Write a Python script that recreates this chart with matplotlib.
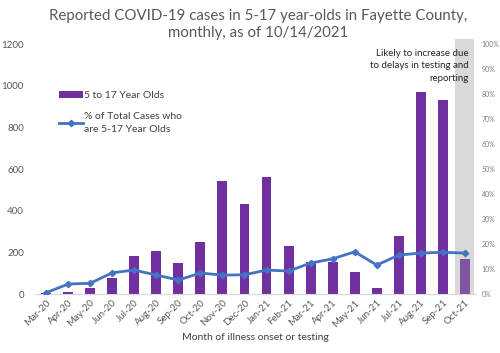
import matplotlib.pyplot as plt
import numpy as np

months = ['Mar-20', 'Apr-20', 'May-20', 'Jun-20', 'Jul-20', 'Aug-20', 'Sep-20', 'Oct-20',
          'Nov-20', 'Dec-20', 'Jan-21', 'Feb-21', 'Mar-21', 'Apr-21', 'May-21', 'Jun-21',
          'Jul-21', 'Aug-21', 'Sep-21', 'Oct-21']
cases = [5, 8, 27, 76, 185, 206, 147, 250, 543, 434, 564, 229, 155, 152, 108, 31, 277, 968, 934, 166]
pct = [0.5, 4.0, 4.3, 8.5, 9.6, 7.6, 5.6, 8.4, 7.6, 7.7, 9.6, 9.2, 12.4, 14.1, 16.9, 11.6,
       15.6, 16.4, 16.7, 16.4]

plt.rc('font', family='Lato')
fig = plt.figure(figsize=(5, 3.53), dpi=100)
ax = fig.add_axes([0.07, 0.167, 0.882, 0.708])
x = np.arange(len(months))

# gray box marking the incomplete month
ax.bar(x[-1], 1224, width=0.86, color='#d9d9d9', zorder=1, clip_on=False)
colors = ['#7030a0'] * (len(months) - 1) + ['#7f55a0']
bars = ax.bar(x, cases, width=0.45, color=colors, zorder=2, label='5 to 17 Year Olds')

ax.set_xlim(-0.5, len(months) - 0.5)
ax.set_ylim(0, 1200)
ax.set_yticks(np.arange(0, 1201, 200))
ax.set_xticks(x)
ax.set_xticklabels(months, rotation=45, ha='right', rotation_mode='anchor', fontsize=7, color='#595959')
ax.tick_params(axis='y', labelsize=7, colors='#595959', length=0, pad=8)
ax.tick_params(axis='x', length=0, pad=3)
for s in ['top', 'right', 'left']:
    ax.spines[s].set_visible(False)
ax.spines['bottom'].set_color('#d9d9d9')

ax2 = ax.twinx()
line, = ax2.plot(x, pct, color='#4472c4', lw=2, marker='D', markersize=3.2, zorder=3,
                 label='% of Total Cases who\nare 5-17 Year Olds')
ax2.set_ylim(0, 100)
ax2.set_yticks(np.arange(0, 101, 10))
ax2.set_yticklabels([f'{v}%' for v in range(0, 101, 10)])
ax2.tick_params(axis='y', labelsize=5, colors='#7f7f7f', length=0, pad=4)
for s in ['top', 'right', 'left', 'bottom']:
    ax2.spines[s].set_visible(False)

leg = fig.legend(handles=[bars, line], labels=['5 to 17 Year Olds', '% of Total Cases who\nare 5-17 Year Olds'],
                 loc='upper left', bbox_to_anchor=(0.1, 0.77), frameon=False, fontsize=7.5,
                 handlelength=2.3, handletextpad=0.1, labelspacing=1.2, labelcolor='#404040')
for t in leg.get_texts():
    t.set_linespacing(1.5)

fig.text(0.516, 0.975, 'Reported COVID-19 cases in 5-17 year-olds in Fayette County,\nmonthly, as of 10/14/2021',
         ha='center', va='top', fontsize=10.8, color='#595959', linespacing=1.25)
ax.text(19.18, 1175, 'Likely to increase due\nto delays in testing and\nreporting', ha='right', va='top',
        fontsize=7, color='#262626', linespacing=1.45, zorder=5)
ax.set_xlabel('Month of illness onset or testing', fontsize=7.5, color='#404040', labelpad=3)

fig.savefig('out.png', dpi=100)
